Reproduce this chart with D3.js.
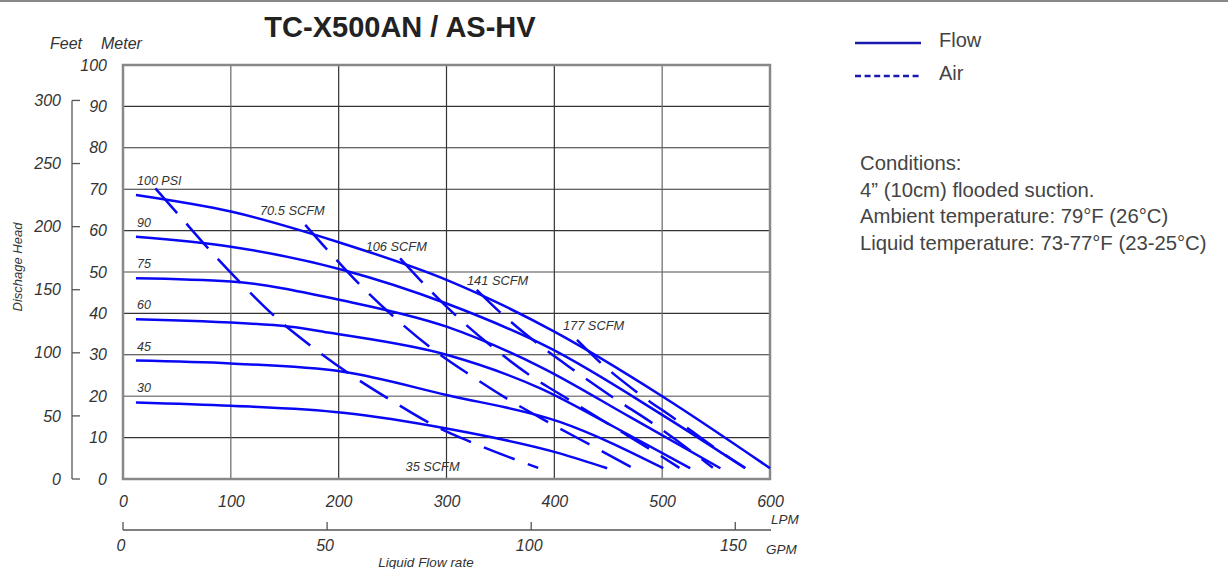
<!DOCTYPE html>
<html>
<head>
<meta charset="utf-8">
<script src="https://d3js.org/d3.v7.min.js"></script>
<title>TC-X500AN / AS-HV</title>
<style>
  body { margin: 0; background: #fff; }
  svg text { font-family: "Liberation Sans", Arial, sans-serif; }
</style>
</head>
<body>
<svg id="chart" width="1228" height="569"></svg>
<script>
// chart values
const title = "TC-X500AN / AS-HV";
const lpmTicks = [0, 100, 200, 300, 400, 500, 600];
const meterTicks = [0, 10, 20, 30, 40, 50, 60, 70, 80, 90, 100];
const feetTicks = [0, 50, 100, 150, 200, 250, 300];
const gpmTicks = [0, 50, 100, 150];

// flow curves [LPM, head m] per inlet pressure
const psiLabels = ["100 PSI", "90", "75", "60", "45", "30"];
const psiLabelHead = [70, 60, 50, 40, 30, 20];
const flow100 = [[12, 68.6], [100, 64.6], [200, 57.2], [300, 48.1], [400, 35.6], [500, 20.0], [600, 2.6]];
const flow90 = [[12, 58.5], [100, 56.1], [204, 50.5], [300, 42.4], [396, 31.6], [500, 15.5], [577, 2.6]];
const flow75 = [[12, 48.5], [100, 47.7], [204, 43.1], [300, 36.8], [387, 27.1], [470, 15.0], [554, 2.6]];
const flow60 = [[12, 38.6], [155, 36.8], [192, 35.3], [300, 30.0], [387, 21.9], [456, 12.5], [526, 2.6]];
const flow45 = [[12, 28.6], [100, 27.9], [204, 25.9], [300, 20.3], [405, 13.8], [501, 2.6]];
const flow30 = [[12, 18.5], [100, 17.7], [204, 16.0], [300, 12.2], [405, 6.2], [449, 2.6]];

// air consumption curves [LPM, head m]
const airLabels = ["35 SCFM", "70.5 SCFM", "106 SCFM", "141 SCFM", "177 SCFM"];
const airLabelAt = [[262, 1.9], [127, 63.8], [225, 55.1], [319, 46.9], [408, 36.0]];
const air35 = [[30, 70.2], [50, 64.3], [79, 55.7], [110, 47.1], [141, 39.2], [175, 32.0], [210, 25.4], [248, 19.1], [288, 13.0], [322, 9.0], [367, 4.4], [385, 2.7]];
const air70 = [[169, 61.4], [189, 55.5], [219, 47.1], [251, 39.2], [285, 31.8], [322, 25.1], [358, 19.1], [396, 13.5], [435, 8.0], [473, 2.6]];
const air106 = [[257, 53.3], [278, 47.4], [309, 39.4], [342, 32.0], [377, 25.1], [414, 19.1], [452, 13.0], [490, 7.0], [516, 2.7]];
const air141 = [[328, 45.7], [350, 40.2], [384, 32.8], [418, 26.3], [455, 19.6], [492, 13.3], [528, 6.5], [547, 2.7]];
const air177 = [[421, 33.6], [442, 28.3], [477, 20.9], [513, 14.3], [549, 7.5], [577, 2.7]];

const legendLabels = ["Flow", "Air"];
const conditions = [
    "Conditions:",
    "4\u201d (10cm) flooded suction.",
    "Ambient temperature: 79\u00b0F (26\u00b0C)",
    "Liquid temperature: 73-77\u00b0F (23-25\u00b0C)"
];

const flows = [flow100, flow90, flow75, flow60, flow45, flow30];
const airs = [air35, air70, air106, air141, air177];

const svg = d3.select("#chart");
const blue = "#0808f5";
const ink = "#333";

const x = d3.scaleLinear().domain([0, 600]).range([123, 770]);
const y = d3.scaleLinear().domain([0, 100]).range([479, 65]);
const yFeet = d3.scaleLinear().domain([0, 100 / 0.3048]).range([479, 65]);
const xGpm = d3.scaleLinear().domain([0, 600 / 3.78541]).range([123, 770]);

// top rule
svg.append("line")
    .attr("x1", 0).attr("x2", 1228).attr("y1", 1).attr("y2", 1)
    .attr("stroke", "#888").attr("stroke-width", 2);

svg.append("text")
    .attr("x", 400).attr("y", 37)
    .attr("text-anchor", "middle")
    .attr("font-size", 29).attr("font-weight", "bold")
    .attr("fill", "#222")
    .text(title);

// grid
const grid = svg.append("g");
grid.selectAll(".h")
    .data(meterTicks.slice(1, -1))
    .join("line")
    .attr("x1", x(0)).attr("x2", x(600))
    .attr("y1", d => y(d)).attr("y2", d => y(d))
    .attr("stroke", d => (d === 20 || d === 50) ? "#888" : "#333")
    .attr("stroke-width", d => (d === 20 || d === 50) ? 1.6 : 1.1);
grid.selectAll(".v")
    .data(lpmTicks.slice(1, -1))
    .join("line")
    .attr("x1", d => x(d)).attr("x2", d => x(d))
    .attr("y1", y(100)).attr("y2", y(0))
    .attr("stroke", d => (d === 100 || d === 500) ? "#666" : "#333")
    .attr("stroke-width", 1.2);
svg.append("rect")
    .attr("x", x(0)).attr("y", y(100))
    .attr("width", x(600) - x(0)).attr("height", y(0) - y(100))
    .attr("fill", "none").attr("stroke", "#888").attr("stroke-width", 2.5);

// meter labels
svg.append("g")
    .attr("transform", `translate(${x(0)},0)`)
    .call(d3.axisLeft(y).tickValues(meterTicks).tickSize(0).tickPadding(16))
    .call(g => g.select(".domain").remove())
    .selectAll("text")
    .attr("font-size", 16).attr("font-style", "italic").attr("fill", ink)
    .style("font-family", "Liberation Sans, Arial, sans-serif");

// feet axis
const feet = svg.append("g");
feet.append("line")
    .attr("x1", 72).attr("x2", 72)
    .attr("y1", yFeet(300)).attr("y2", yFeet(0))
    .attr("stroke", "#555").attr("stroke-width", 1.3);
feet.selectAll("line.t")
    .data(feetTicks)
    .join("line")
    .attr("class", "t")
    .attr("x1", 72).attr("x2", 80)
    .attr("y1", d => yFeet(d)).attr("y2", d => yFeet(d))
    .attr("stroke", "#555").attr("stroke-width", 1.3);
feet.selectAll("text")
    .data(feetTicks)
    .join("text")
    .attr("x", 61).attr("y", d => yFeet(d))
    .attr("dy", "0.35em")
    .attr("text-anchor", "end")
    .attr("font-size", 16).attr("font-style", "italic").attr("fill", ink)
    .text(d => d);

svg.append("text").attr("x", 50).attr("y", 49)
    .attr("font-size", 16).attr("font-style", "italic").attr("fill", ink).text("Feet");
svg.append("text").attr("x", 101).attr("y", 49)
    .attr("font-size", 16).attr("font-style", "italic").attr("fill", ink).text("Meter");
svg.append("text")
    .attr("transform", "translate(22,267) rotate(-90)")
    .attr("text-anchor", "middle")
    .attr("font-size", 13).attr("font-style", "italic").attr("fill", ink)
    .text("Dischage Head");

// LPM axis labels
svg.append("g")
    .attr("transform", `translate(0,${y(0)})`)
    .call(d3.axisBottom(x).tickValues(lpmTicks).tickSize(0).tickPadding(17))
    .call(g => g.select(".domain").remove())
    .selectAll("text")
    .attr("font-size", 16).attr("font-style", "italic").attr("fill", ink)
    .style("font-family", "Liberation Sans, Arial, sans-serif");
svg.append("text").attr("x", 771).attr("y", 524)
    .attr("font-size", 13.5).attr("font-style", "italic").attr("fill", ink).text("LPM");

// GPM axis
const gpm = svg.append("g");
gpm.append("line")
    .attr("x1", xGpm(0)).attr("x2", 771).attr("y1", 530).attr("y2", 530)
    .attr("stroke", "#555").attr("stroke-width", 1.3);
gpm.selectAll("line.t")
    .data(gpmTicks)
    .join("line")
    .attr("class", "t")
    .attr("x1", d => xGpm(d)).attr("x2", d => xGpm(d))
    .attr("y1", 522).attr("y2", 530)
    .attr("stroke", "#555").attr("stroke-width", 1.3);
gpm.selectAll("text")
    .data(gpmTicks)
    .join("text")
    .attr("x", d => xGpm(d) - 2).attr("y", 551)
    .attr("text-anchor", "middle")
    .attr("font-size", 16).attr("font-style", "italic").attr("fill", ink)
    .text(d => d);
svg.append("text").attr("x", 766).attr("y", 554)
    .attr("font-size", 13.5).attr("font-style", "italic").attr("fill", ink).text("GPM");
svg.append("text").attr("x", 426).attr("y", 567)
    .attr("text-anchor", "middle")
    .attr("font-size", 13.5).attr("font-style", "italic").attr("fill", ink)
    .text("Liquid Flow rate");

// curves
const line = d3.line()
    .x(d => x(d[0]))
    .y(d => y(d[1]))
    .curve(d3.curveMonotoneX);

svg.append("g").selectAll("path")
    .data(flows)
    .join("path")
    .attr("d", line)
    .attr("fill", "none")
    .attr("stroke", blue)
    .attr("stroke-width", 2.5);

svg.append("g").selectAll("path")
    .data(airs)
    .join("path")
    .attr("d", line)
    .attr("fill", "none")
    .attr("stroke", blue)
    .attr("stroke-width", 2.5)
    .attr("stroke-dasharray", "33,14");

svg.append("g").selectAll("text")
    .data(psiLabels)
    .join("text")
    .attr("x", x(13))
    .attr("y", (d, i) => y(psiLabelHead[i]) - 4)
    .attr("font-size", 12.5).attr("font-style", "italic").attr("fill", ink)
    .text(d => d);

svg.append("g").selectAll("text")
    .data(airLabels)
    .join("text")
    .attr("x", (d, i) => x(airLabelAt[i][0]))
    .attr("y", (d, i) => y(airLabelAt[i][1]))
    .attr("font-size", 12.8).attr("font-style", "italic").attr("fill", ink)
    .text(d => d);

// legend
const legend = svg.append("g");
legend.selectAll("line")
    .data(legendLabels)
    .join("line")
    .attr("x1", 855).attr("x2", 921)
    .attr("y1", (d, i) => 43 + i * 33).attr("y2", (d, i) => 43 + i * 33)
    .attr("stroke", "#1a1ab0")
    .attr("stroke-width", 2.3)
    .attr("stroke-dasharray", (d, i) => i === 1 ? "6,3.6" : null);
legend.selectAll("text")
    .data(legendLabels)
    .join("text")
    .attr("x", 939)
    .attr("y", (d, i) => 47 + i * 33)
    .attr("font-size", 20).attr("fill", "#444")
    .text(d => d);

svg.append("g").selectAll("text")
    .data(conditions)
    .join("text")
    .attr("x", 860)
    .attr("y", (d, i) => 170 + i * 26.7)
    .attr("font-size", 20.3).attr("fill", "#444")
    .text(d => d);
</script>
</body>
</html>
